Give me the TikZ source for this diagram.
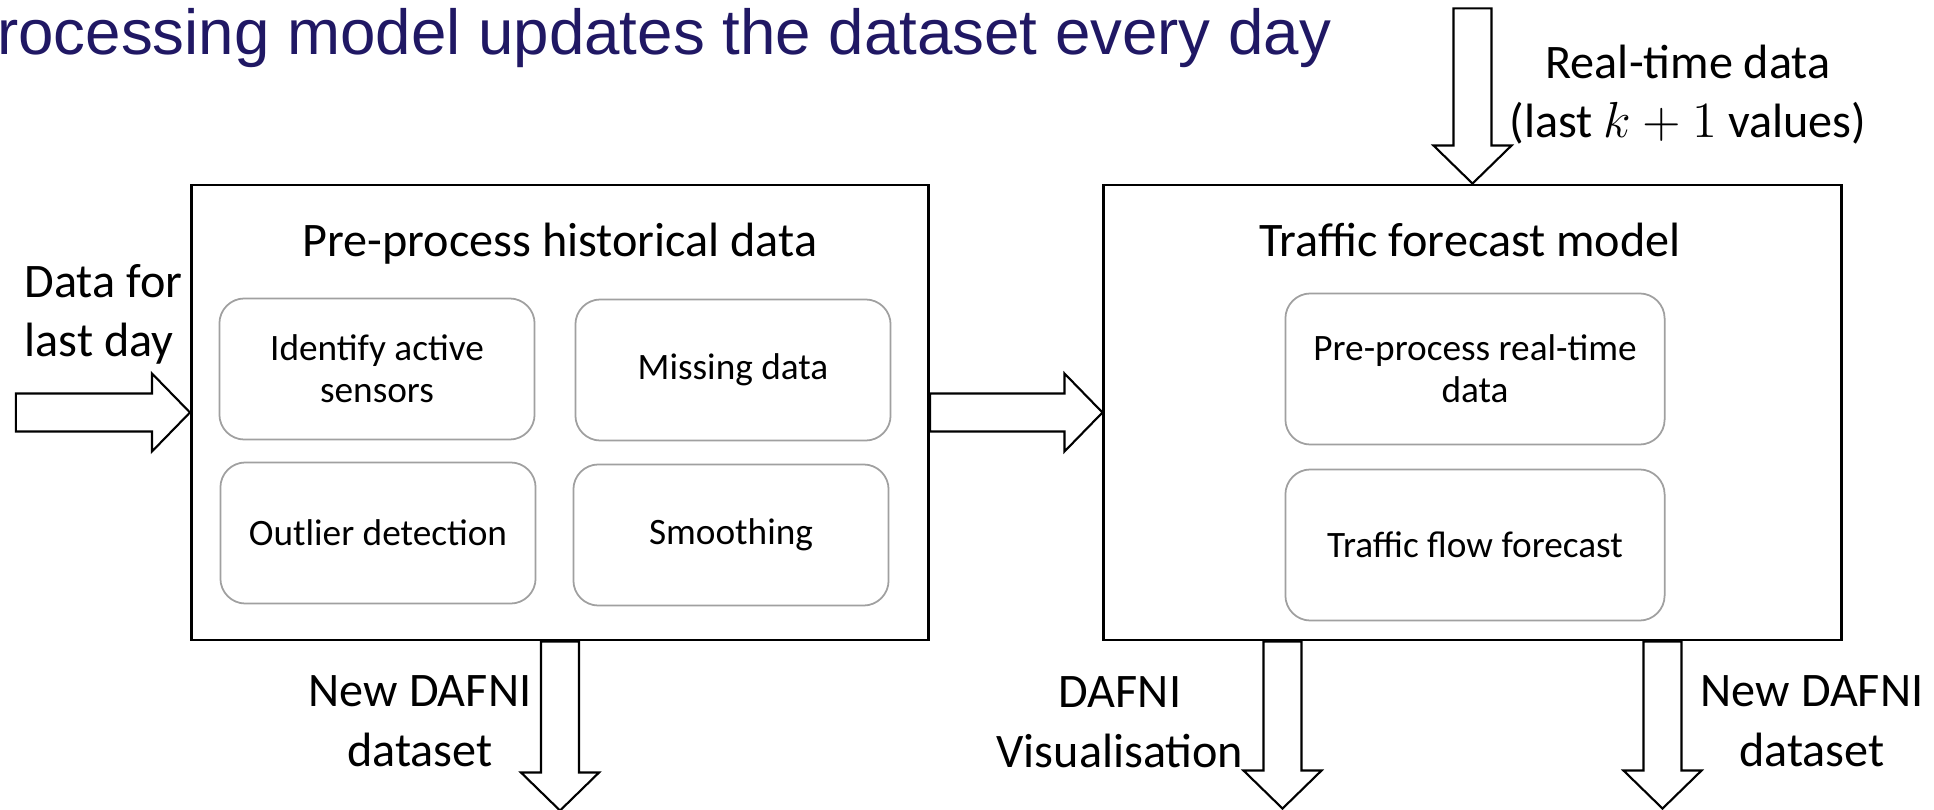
\documentclass[tikz,border=0pt]{standalone}
\usepackage{fontspec}
\setmainfont{Carlito}
\newfontfamily\headfont{Liberation Sans}
\usetikzlibrary{calc, positioning}
\definecolor{titleblue}{RGB}{32,24,100}
\definecolor{subgray}{RGB}{160,160,160}

% block arrow from #1 to #2
\newcommand{\fatarrow}[2]{%
  \coordinate (fa) at ($(#2)!0.38cm!(#1)$);
  \draw[fat] ($(#1)!0.19cm!90:(#2)$) -- ($(fa)!0.19cm!90:(#2)$) -- ($(fa)!0.39cm!90:(#2)$) -- (#2)
    -- ($(fa)!0.39cm!-90:(#2)$) -- ($(fa)!0.19cm!-90:(#2)$) -- ($(#1)!0.19cm!-90:(#2)$) -- cycle;}

\begin{document}
\begin{tikzpicture}[x=0.01cm, y=-0.01cm,
  box/.style={draw, line width=0.75pt, minimum width=7.37cm, minimum height=4.55cm, inner sep=0},
  sub/.style={draw=subgray, line width=0.5pt, rounded corners=0.25cm, align=center,
    minimum width=3.15cm, minimum height=1.41cm, inner sep=0, font=\fontsize{10.6}{12}\selectfont},
  lbl/.style={align=center, inner sep=0, font=\fontsize{13.7}{16.8}\selectfont},
  fat/.style={draw, fill=white, line width=0.6pt}]
  \useasboundingbox (0,0) rectangle (1934,810);
  \node[anchor=base east, text=titleblue, inner sep=0, font=\headfont\fontsize{18.1}{20}\selectfont] (title)
    at (1332,55) {Processing model updates the dataset every day};

  % the two blocks
  \node[box] (pre) at (560,412.5) {};
  \node[box] (model) at (1472.5,412.5) {};
  \node[lbl, anchor=base] (pretitle) at (560,257) {Pre-process historical data};
  \node[lbl, anchor=base] (modeltitle) at (1470,257) {Traffic forecast model};

  % steps
  \node[sub] (active) at (377,369) {Identify active\\sensors};
  \node[sub] (missing) at (733,370) {Missing data};
  \node[sub] (outlier) at (378,533) {Outlier detection};
  \node[sub] (smooth) at (731,535) {Smoothing};
  \node[sub, minimum width=3.79cm, minimum height=1.51cm] (rtprep) at (1475,369) {Pre-process real-time\\data};
  \node[sub, minimum width=3.79cm, minimum height=1.51cm] (flow) at (1475,545) {Traffic flow forecast};

  % arrows
  \coordinate[left=1.74cm of pre.west] (datain);
  \coordinate[above=1.75cm of model.north] (rtin);
  \coordinate[below=1.69cm of pre.south] (preout);
  \coordinate (visfrom) at ($(model.south)+(-190,0)$);
  \coordinate (newfrom) at ($(model.south)+(190,0)$);
  \coordinate[below=1.67cm of visfrom] (visout);
  \coordinate[below=1.67cm of newfrom] (newout);
  \fatarrow{datain}{pre.west}
  \fatarrow{pre.east}{model.west}
  \fatarrow{rtin}{model.north}
  \fatarrow{pre.south}{preout}
  \fatarrow{visfrom}{visout}
  \fatarrow{newfrom}{newout}

  % labels (base = last line)
  \node[lbl, align=left, anchor=base west] (daylbl) at (24,357) {Data for\\last day};
  \node[lbl, anchor=base] (rtlbl) at (1688,138) {Real-time data\\(last $k+1$ values)};
  \node[lbl, anchor=base] (prelbl) at (420,766) {New DAFNI\\dataset};
  \node[lbl, anchor=base] (vislbl) at (1120,767) {DAFNI\\Visualisation};
  \node[lbl, anchor=base] (newlbl) at (1812,766) {New DAFNI\\dataset};
\end{tikzpicture}
\end{document}
